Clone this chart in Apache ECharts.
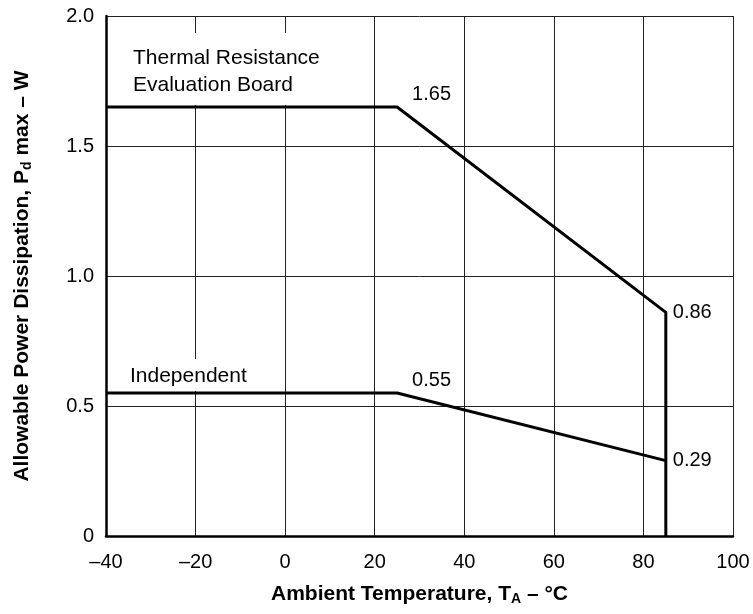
<!DOCTYPE html>
<html>
<head>
<meta charset="utf-8">
<script src="https://cdn.jsdelivr.net/npm/echarts@6/dist/echarts.min.js"></script>
<style>html,body{margin:0;padding:0;background:#fff}#c{width:753px;height:614px}</style>
</head>
<body>
<div id="c"></div>
<script>
// Data
const thermalBoard = [[-40, 1.65], [25, 1.65], [85, 0.86], [85, 0]];
const independent = [[-40, 0.55], [25, 0.55], [85, 0.29]];
const valueLabels = [
  { series: 0, index: 1, text: '1.65' },
  { series: 0, index: 2, text: '0.86' },
  { series: 1, index: 1, text: '0.55' },
  { series: 1, index: 2, text: '0.29' }
];
const curveNames = ['Thermal Resistance\nEvaluation Board', 'Independent'];
const xTicks = [-40, -20, 0, 20, 40, 60, 80, 100];
const yTicks = [0, 0.5, 1.0, 1.5, 2.0];

const FONT = 'Liberation Sans';
const chart = echarts.init(document.getElementById('c'));
const curves = [thermalBoard, independent];

const lineStyle = { color: '#000', width: 3 };
chart.setOption({
  animation: false,
  grid: { left: 106, right: 20, top: 16, bottom: 78 },
  xAxis: {
    type: 'value', min: -40, max: 100, interval: 20,
    axisLine: { show: true, onZero: false, lineStyle: { color: '#000', width: 2.5 } },
    axisTick: { show: false },
    splitLine: { show: true, lineStyle: { color: '#222', width: 1 } },
    axisLabel: {
      margin: 16, color: '#000', fontFamily: FONT, fontSize: 20,
      formatter: v => xTicks.includes(v) ? (v < 0 ? '\u2013' + Math.abs(v) : String(v)) : ''
    },
    name: 'Ambient Temperature, T{s|A} \u2013 \u00b0C',
    nameLocation: 'middle', nameGap: 46,
    nameTextStyle: {
      fontFamily: FONT, fontSize: 21, fontWeight: 'bold', color: '#000',
      rich: { s: { fontFamily: FONT, fontSize: 14, fontWeight: 'bold', color: '#000', padding: [10, 0, 0, 0] } }
    }
  },
  yAxis: {
    type: 'value', min: 0, max: 2.0, interval: 0.5,
    axisLine: { show: true, onZero: false, lineStyle: { color: '#000', width: 2.5 } },
    axisTick: { show: false },
    splitLine: { show: true, lineStyle: { color: '#222', width: 1 } },
    axisLabel: {
      margin: 12, color: '#000', fontFamily: FONT, fontSize: 20,
      formatter: v => {
        const t = yTicks.find(y => Math.abs(y - v) < 1e-9);
        if (t === undefined) return '';
        return t === 0 ? '0' : t.toFixed(1);
      }
    },
    name: 'Allowable Power Dissipation, P{s|d} max \u2013 W',
    nameLocation: 'middle', nameGap: 72,
    nameTextStyle: {
      fontFamily: FONT, fontSize: 21, fontWeight: 'bold', color: '#000',
      rich: { s: { fontFamily: FONT, fontSize: 14, fontWeight: 'bold', color: '#000', padding: [10, 0, 0, 0] } }
    }
  },
  series: [
    { type: 'line', data: thermalBoard, symbol: 'none', lineStyle, z: 5 },
    { type: 'line', data: independent, symbol: 'none', lineStyle, z: 5 }
  ]
});

// Annotations placed at the data points' pixel positions
const toPx = p => chart.convertToPixel({ gridIndex: 0 }, p);
const a1 = toPx(thermalBoard[0]);
const a2 = toPx(independent[0]);
const txt = { fontFamily: FONT, fontSize: 21, fill: '#000' };
const graphics = [
  { type: 'rect', z: 1, shape: { x: a1[0] + 21, y: a1[1] - 74, width: 180, height: 72 }, style: { fill: '#fff' } },
  { type: 'text', z: 2, x: a1[0] + 27, y: a1[1] - 49, style: Object.assign({ text: curveNames[0].split('\n')[0], verticalAlign: 'middle' }, txt) },
  { type: 'text', z: 2, x: a1[0] + 27, y: a1[1] - 22, style: Object.assign({ text: curveNames[0].split('\n')[1], verticalAlign: 'middle' }, txt) },
  { type: 'rect', z: 1, shape: { x: a2[0] + 19, y: a2[1] - 34, width: 130, height: 32 }, style: { fill: '#fff' } },
  { type: 'text', z: 2, x: a2[0] + 24, y: a2[1] - 17, style: Object.assign({ text: curveNames[1], verticalAlign: 'middle' }, txt) }
];
valueLabels.forEach(v => {
  const p = toPx(curves[v.series][v.index]);
  const up = (v.index === 1);
  graphics.push({
    type: 'text', z: 10,
    x: p[0] + (up ? 15 : 7), y: p[1] + (up ? -13 : 0),
    style: { text: v.text, fontFamily: FONT, fontSize: 20, fill: '#000', verticalAlign: 'middle', align: 'left' }
  });
});
chart.setOption({ graphic: graphics });
</script>
</body>
</html>
